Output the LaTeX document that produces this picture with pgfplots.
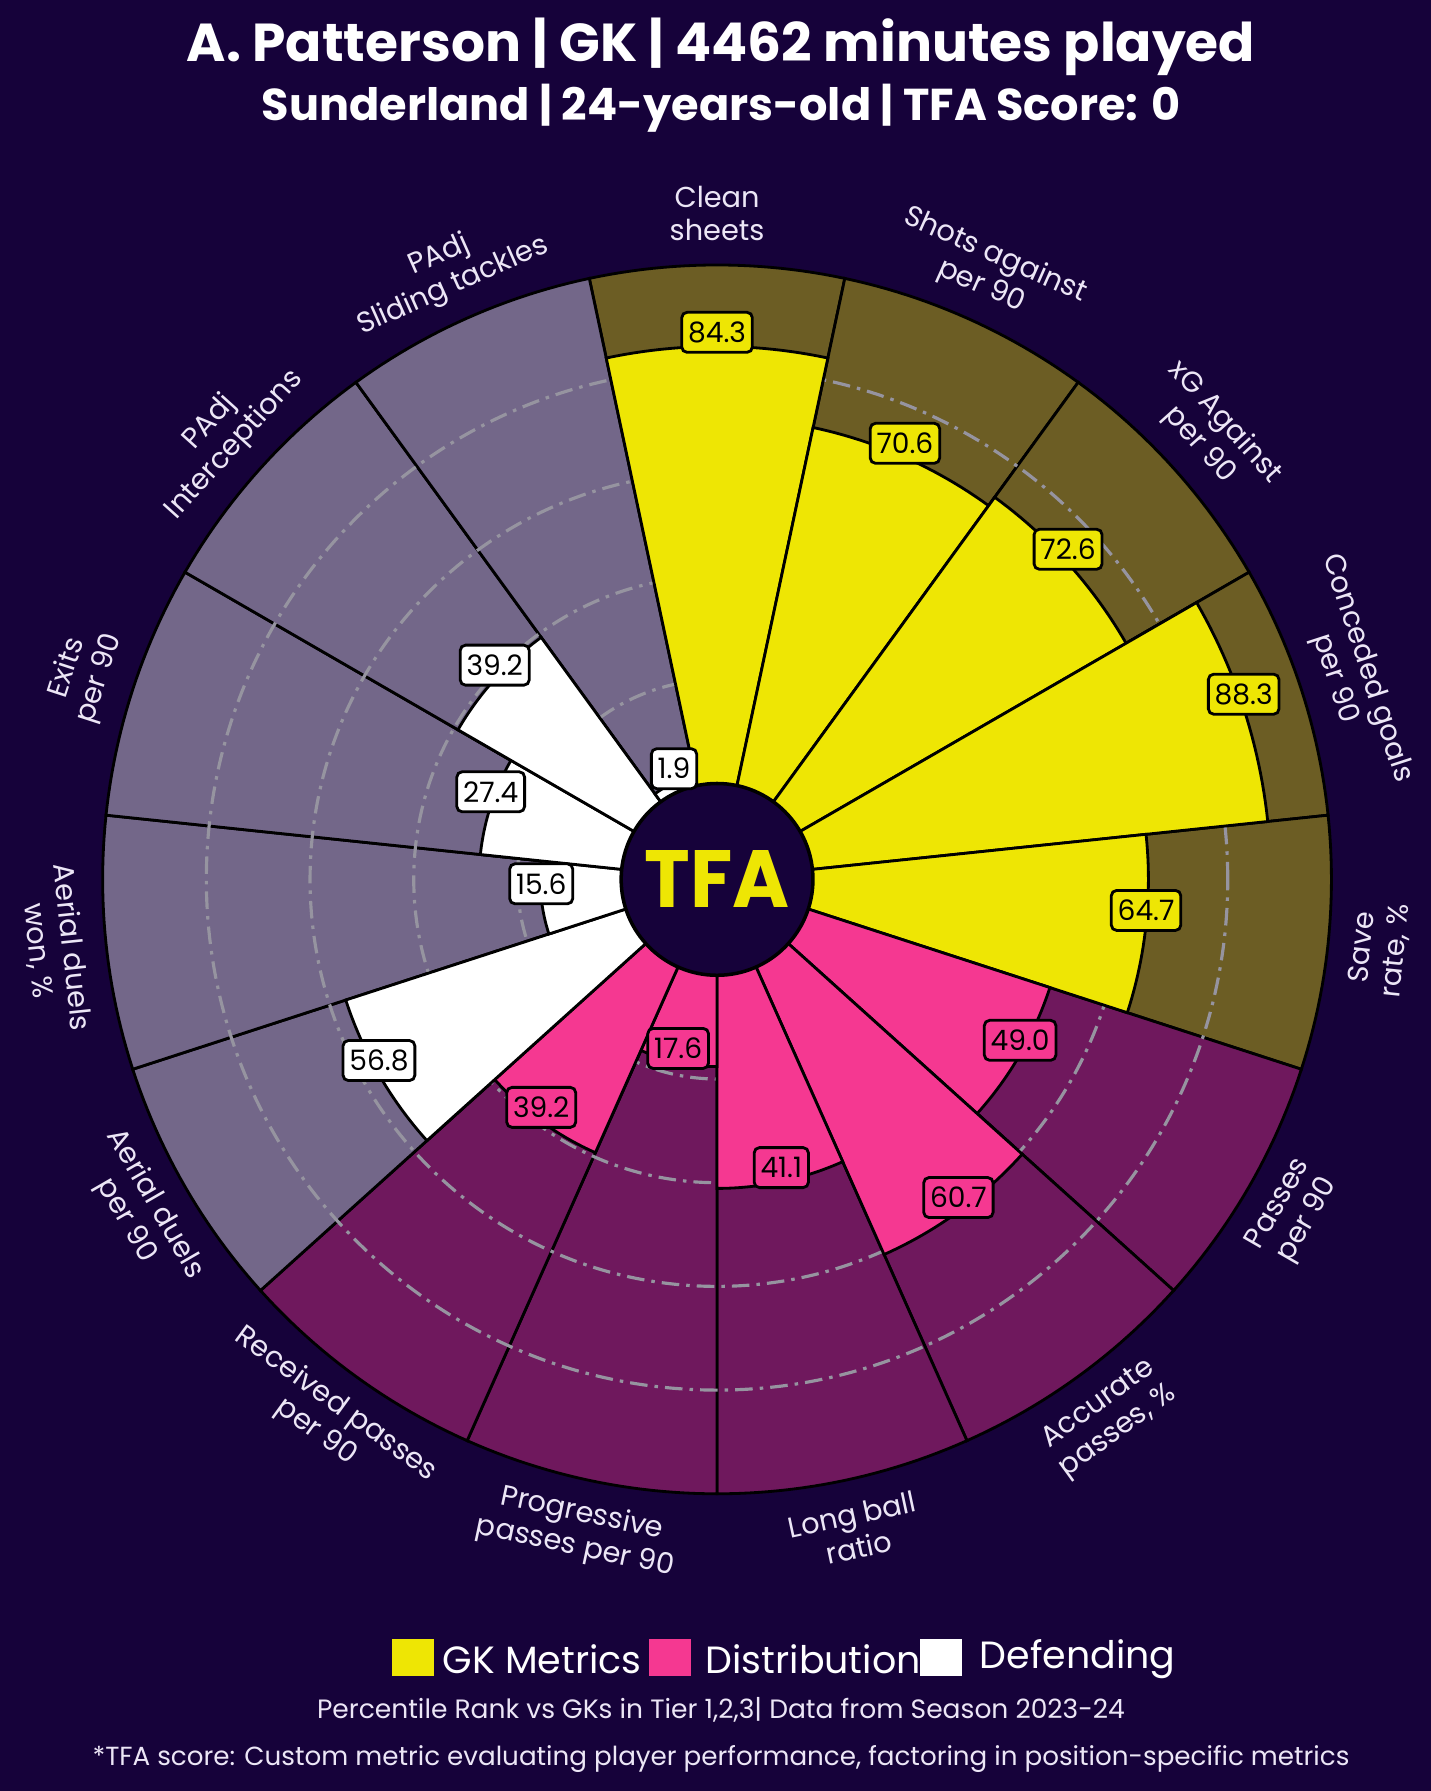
\documentclass[border=0pt]{standalone}
\usepackage{pgfplots}
\pgfplotsset{compat=1.18}
\usepackage{pgfplotstable}
\usepackage{fontspec}
\setmainfont{Poppins}
\usetikzlibrary{calc}

\definecolor{bgc}{RGB}{22,2,58}
\definecolor{gkc}{RGB}{238,230,4}
\definecolor{dic}{RGB}{245,56,145}
\definecolor{dfc}{RGB}{255,255,255}
\colorlet{gkbg}{gkc!40!bgc}
\colorlet{dibg}{dic!40!bgc}
\colorlet{dfbg}{dfc!40!bgc}
\definecolor{gridc}{RGB}{150,148,160}
\definecolor{labc}{RGB}{236,230,246}

% angle (deg, slice centre) and percentile value
\pgfplotstableread{
ang val
90 84.3
66 70.6
42 72.6
18 88.3
-6 64.7
}\gktab
\pgfplotstableread{
ang val
-30 49.0
-54 60.7
-78 41.1
-102 17.6
-126 39.2
}\ditab
\pgfplotstableread{
ang val
-150 56.8
-174 15.6
162 27.4
138 39.2
114 1.9
}\dftab

\newcommand\rz{18.5}

\newcommand\drawbg[2]{%
  \pgfplotsforeachungrouped \i in {0,...,4}{%
    \pgfplotstablegetelem{\i}{ang}\of{#1}\let\myang\pgfplotsretval
    \pgfmathsetmacro\angA{\myang-12}%
    \pgfmathsetmacro\angB{\myang+12}%
    \edef\temp{\noexpand\addplot[data cs=polar, domain=\angA:\angB, samples=49, fill=#2, draw=black, line width=0.8pt] {118.5} -- (axis cs:0,0) -- cycle;}%
    \temp
  }%
}
\newcommand\drawbars[2]{%
  \pgfplotsforeachungrouped \i in {0,...,4}{%
    \pgfplotstablegetelem{\i}{ang}\of{#1}\let\myang\pgfplotsretval
    \pgfplotstablegetelem{\i}{val}\of{#1}\let\myval\pgfplotsretval
    \pgfmathsetmacro\angA{\myang-12}%
    \pgfmathsetmacro\angB{\myang+12}%
    \edef\temp{\noexpand\addplot[data cs=polar, domain=\angA:\angB, samples=49, fill=#2, draw=black, line width=0.8pt] {\rz+\myval} -- (axis cs:0,0) -- cycle;}%
    \temp
  }%
}
\newcommand\drawboxes[2]{%
  \addplot[data cs=polar, draw=none, mark=none, point meta=explicit,
    nodes near coords={\pgfmathprintnumber[fixed,fixed zerofill,precision=1,assume math mode=true]{\pgfplotspointmeta}},
    nodes near coords align=center,
    every node near coord/.style={anchor=center, yshift=4pt, fill=#2, draw=black, line width=0.8pt, rounded corners=1.5pt, text=black, inner xsep=1.8pt, inner ysep=1.5pt, minimum height=0.40cm, font=\fontsize{8}{9}\selectfont}]
    table[x=ang, y expr=\thisrow{val}+18.5, meta=val] {#1};
}

\begin{document}
\begin{tikzpicture}
\fill[bgc] (0,0) rectangle (14.31cm,17.91cm);
\begin{axis}[at={(0,0)}, anchor=south west, scale only axis,
  width=14.31cm, height=17.91cm,
  xmin=-138.3, xmax=137.7, ymin=-175.82, ymax=169.61,
  hide axis, clip=false]
  \drawbg{\gktab}{gkbg}
  \drawbg{\ditab}{dibg}
  \drawbg{\dftab}{dfbg}
  \draw[gridc, line width=0.9pt, dash pattern=on 5pt off 2pt on 1pt off 2pt] (axis cs:0,0) circle[radius=1.996cm];
  \draw[gridc, line width=0.9pt, dash pattern=on 5pt off 2pt on 1pt off 2pt] (axis cs:0,0) circle[radius=3.033cm];
  \draw[gridc, line width=0.9pt, dash pattern=on 5pt off 2pt on 1pt off 2pt] (axis cs:0,0) circle[radius=4.070cm];
  \draw[gridc, line width=0.9pt, dash pattern=on 5pt off 2pt on 1pt off 2pt] (axis cs:0,0) circle[radius=5.107cm];
  \drawbars{\gktab}{gkc}
  \drawbars{\ditab}{dic}
  \drawbars{\dftab}{dfc}
  \draw[fill=bgc, draw=black, line width=1pt] (axis cs:0,0) circle[radius=0.959cm];
  \node[text=gkc, inner sep=0pt] at (axis cs:0,0) {\resizebox{1.45cm}{0.57cm}{\bfseries TFA}};
  \drawboxes{\gktab}{gkc}
  \drawboxes{\ditab}{dic}
  \drawboxes{\dftab}{dfc}
\end{axis}

\coordinate (C) at (7.171cm,9.116cm);
\foreach \a/\t in {90/{Clean\\sheets}, 66/{Shots against\\per 90}, 42/{xG Against\\per 90}, 18/{Conceded goals\\per 90}, -6/{Save\\rate, \%}, -30/{Passes\\per 90}, -54/{Accurate\\passes, \%}, -78/{Long ball\\ratio}, -102/{Progressive\\passes per 90}, -126/{Received passes\\per 90}, -150/{Aerial duels\\per 90}, -174/{Aerial duels\\won, \%}, 162/{Exits\\per 90}, 138/{PAdj\\Interceptions}, 114/{PAdj\\Sliding tackles}}{
  \pgfmathsetmacro\rot{ifthenelse(\a<0, \a+90, \a-90)}
  \node[rotate=\rot, align=center, text=labc, font=\fontsize{8.2}{9.6}\selectfont, inner sep=0pt] at ($(C)+(\a:6.66cm)$) {\t};
}

\node[text=white, font=\bfseries\fontsize{15.2}{18}\selectfont] at (7.21cm,17.44cm) {A. Patterson | GK | 4462 minutes played};
\node[text=white, font=\bfseries\fontsize{12.7}{15}\selectfont] at (7.21cm,16.83cm) {Sunderland | 24-years-old | TFA Score: 0};

\fill[gkc] (3.92cm,1.15cm) rectangle (4.34cm,1.52cm);
\node[anchor=west, text=white, font=\fontsize{10.8}{13}\selectfont, inner sep=0pt] at (4.42cm,1.32cm) {GK Metrics};
\fill[dic] (6.49cm,1.15cm) rectangle (6.91cm,1.52cm);
\node[anchor=west, text=white, font=\fontsize{10.8}{13}\selectfont, inner sep=0pt] at (7.05cm,1.32cm) {Distribution};
\fill[dfc] (9.20cm,1.15cm) rectangle (9.62cm,1.52cm);
\node[anchor=west, text=white, font=\fontsize{10.8}{13}\selectfont, inner sep=0pt] at (9.79cm,1.32cm) {Defending};

\node[text=labc, font=\fontsize{7.55}{9}\selectfont] at (7.21cm,0.81cm) {Percentile Rank vs GKs in Tier 1,2,3| Data from Season 2023-24};
\node[text=labc, font=\fontsize{7.45}{9}\selectfont] at (7.21cm,0.32cm) {*TFA score: Custom metric evaluating player performance, factoring in position-specific metrics};
\end{tikzpicture}
\end{document}
